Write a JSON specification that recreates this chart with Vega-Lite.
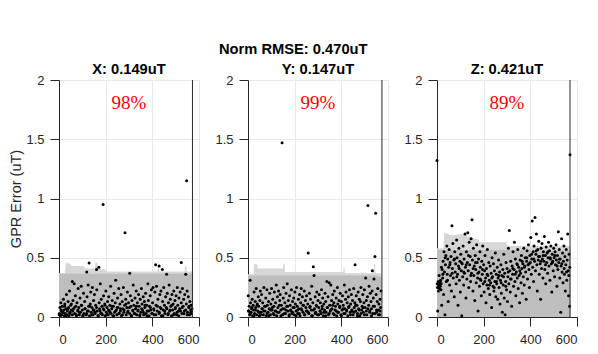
{
"$schema": "https://vega.github.io/schema/vega-lite/v6.json",
"padding": {"left": 8, "top": 41, "right": 5, "bottom": 5},
"background": "white",
"bounds": "flush",
"spacing": 49,
"title": {"text": "Norm RMSE: 0.470uT", "anchor": "middle", "offset": 6},
"config": {
 "view": {"stroke": null},
 "axis": {"labelFont": "Liberation Sans", "labelFontSize": 13, "labelColor": "#262626", "tickColor": "#262626", "domainColor": "#262626", "tickSize": 9, "labelPadding": 6, "gridColor": "#e8e8e8", "titleFont": "Liberation Sans", "titleFontSize": 14.5, "titleFontWeight": "normal", "titleColor": "#262626", "labelExpr": "'' + datum.value"},
 "axisX": {"labelPadding": 7},
 "title": {"font": "Liberation Sans", "fontSize": 14.7, "fontWeight": "bold", "color": "#000000", "offset": -3}
},
"datasets": {
 "bandX": [{"i":0,"b":0.365,"t":0.37},{"i":26,"b":0.365,"t":0.37},{"i":28,"b":0.365,"t":0.455},{"i":50,"b":0.365,"t":0.45},{"i":52,"b":0.365,"t":0.43},{"i":108,"b":0.365,"t":0.43},{"i":110,"b":0.365,"t":0.41},{"i":154,"b":0.365,"t":0.41},{"i":156,"b":0.365,"t":0.46},{"i":164,"b":0.365,"t":0.46},{"i":166,"b":0.365,"t":0.41},{"i":198,"b":0.365,"t":0.40},{"i":202,"b":0.365,"t":0.385},{"i":422,"b":0.365,"t":0.385},{"i":424,"b":0.365,"t":0.42},{"i":427,"b":0.365,"t":0.42},{"i":429,"b":0.365,"t":0.385},{"i":538,"b":0.365,"t":0.385},{"i":540,"b":0.365,"t":0.43},{"i":545,"b":0.365,"t":0.43},{"i":547,"b":0.365,"t":0.385},{"i":572,"b":0.365,"t":0.385}],
 "bandY": [{"i":0,"b":0.35,"t":0.36},{"i":24,"b":0.35,"t":0.36},{"i":26,"b":0.35,"t":0.45},{"i":40,"b":0.35,"t":0.44},{"i":42,"b":0.35,"t":0.41},{"i":150,"b":0.35,"t":0.41},{"i":152,"b":0.35,"t":0.45},{"i":157,"b":0.35,"t":0.45},{"i":159,"b":0.35,"t":0.38},{"i":408,"b":0.35,"t":0.38},{"i":410,"b":0.35,"t":0.42},{"i":413,"b":0.35,"t":0.42},{"i":415,"b":0.35,"t":0.37},{"i":538,"b":0.35,"t":0.37},{"i":540,"b":0.35,"t":0.44},{"i":544,"b":0.35,"t":0.44},{"i":546,"b":0.35,"t":0.37},{"i":572,"b":0.34,"t":0.37}],
 "bandZ": [{"i":0,"b":0.565,"t":0.58},{"i":28,"b":0.565,"t":0.58},{"i":30,"b":0.565,"t":0.71},{"i":60,"b":0.565,"t":0.69},{"i":110,"b":0.565,"t":0.70},{"i":135,"b":0.565,"t":0.68},{"i":180,"b":0.565,"t":0.65},{"i":182,"b":0.565,"t":0.63},{"i":300,"b":0.565,"t":0.63},{"i":302,"b":0.565,"t":0.60},{"i":572,"b":0.56,"t":0.60}],
 "ptsX": [{"i":2,"v":0.03},{"i":4,"v":0.08},{"i":6,"v":0.01},{"i":8,"v":0.12},{"i":10,"v":0.05},{"i":12,"v":0.02},{"i":14,"v":0.09},{"i":17,"v":0.04},{"i":19,"v":0.15},{"i":21,"v":0.06},{"i":23,"v":0.01},{"i":25,"v":0.11},{"i":27,"v":0.03},{"i":30,"v":0.07},{"i":32,"v":0.19},{"i":34,"v":0.02},{"i":36,"v":0.05},{"i":39,"v":0.13},{"i":41,"v":0.08},{"i":43,"v":0.01},{"i":45,"v":0.22},{"i":47,"v":0.04},{"i":50,"v":0.10},{"i":52,"v":0.06},{"i":57,"v":0.30},{"i":57,"v":0.02},{"i":60,"v":0.14},{"i":62,"v":0.07},{"i":65,"v":0.28},{"i":67,"v":0.03},{"i":70,"v":0.18},{"i":72,"v":0.09},{"i":75,"v":0.01},{"i":77,"v":0.12},{"i":80,"v":0.05},{"i":82,"v":0.24},{"i":85,"v":0.08},{"i":87,"v":0.02},{"i":90,"v":0.16},{"i":92,"v":0.04},{"i":95,"v":0.26},{"i":97,"v":0.10},{"i":100,"v":0.06},{"i":102,"v":0.01},{"i":105,"v":0.20},{"i":107,"v":0.03},{"i":110,"v":0.13},{"i":112,"v":0.07},{"i":119,"v":0.38},{"i":117,"v":0.02},{"i":120,"v":0.17},{"i":122,"v":0.05},{"i":125,"v":0.27},{"i":127,"v":0.09},{"i":129,"v":0.455},{"i":131,"v":0.01},{"i":134,"v":0.11},{"i":136,"v":0.21},{"i":138,"v":0.04},{"i":141,"v":0.08},{"i":143,"v":0.25},{"i":145,"v":0.02},{"i":148,"v":0.14},{"i":150,"v":0.06},{"i":152,"v":0.19},{"i":155,"v":0.03},{"i":157,"v":0.10},{"i":161,"v":0.40},{"i":162,"v":0.23},{"i":164,"v":0.05},{"i":167,"v":0.01},{"i":171,"v":0.42},{"i":172,"v":0.12},{"i":174,"v":0.07},{"i":177,"v":0.28},{"i":179,"v":0.03},{"i":181,"v":0.15},{"i":184,"v":0.09},{"i":186,"v":0.02},{"i":189,"v":0.95},{"i":191,"v":0.18},{"i":193,"v":0.06},{"i":196,"v":0.11},{"i":198,"v":0.01},{"i":201,"v":0.22},{"i":203,"v":0.04},{"i":206,"v":0.08},{"i":208,"v":0.13},{"i":211,"v":0.02},{"i":213,"v":0.17},{"i":216,"v":0.05},{"i":218,"v":0.10},{"i":221,"v":0.26},{"i":223,"v":0.03},{"i":226,"v":0.07},{"i":228,"v":0.14},{"i":231,"v":0.01},{"i":233,"v":0.09},{"i":236,"v":0.20},{"i":238,"v":0.04},{"i":241,"v":0.12},{"i":243,"v":0.31},{"i":246,"v":0.06},{"i":248,"v":0.02},{"i":251,"v":0.16},{"i":253,"v":0.08},{"i":256,"v":0.24},{"i":258,"v":0.03},{"i":261,"v":0.11},{"i":263,"v":0.05},{"i":266,"v":0.19},{"i":268,"v":0.01},{"i":271,"v":0.13},{"i":273,"v":0.07},{"i":276,"v":0.25},{"i":278,"v":0.04},{"i":281,"v":0.10},{"i":283,"v":0.71},{"i":286,"v":0.15},{"i":288,"v":0.02},{"i":291,"v":0.08},{"i":293,"v":0.21},{"i":296,"v":0.05},{"i":298,"v":0.12},{"i":303,"v":0.37},{"i":303,"v":0.03},{"i":306,"v":0.18},{"i":308,"v":0.09},{"i":311,"v":0.01},{"i":313,"v":0.14},{"i":316,"v":0.06},{"i":318,"v":0.27},{"i":321,"v":0.10},{"i":323,"v":0.03},{"i":326,"v":0.16},{"i":328,"v":0.07},{"i":331,"v":0.22},{"i":333,"v":0.02},{"i":336,"v":0.12},{"i":338,"v":0.05},{"i":341,"v":0.19},{"i":343,"v":0.09},{"i":346,"v":0.01},{"i":348,"v":0.15},{"i":351,"v":0.04},{"i":353,"v":0.24},{"i":356,"v":0.11},{"i":358,"v":0.06},{"i":361,"v":0.17},{"i":363,"v":0.02},{"i":366,"v":0.13},{"i":368,"v":0.08},{"i":371,"v":0.20},{"i":373,"v":0.03},{"i":376,"v":0.10},{"i":378,"v":0.05},{"i":381,"v":0.28},{"i":383,"v":0.14},{"i":386,"v":0.01},{"i":388,"v":0.09},{"i":391,"v":0.18},{"i":393,"v":0.06},{"i":396,"v":0.23},{"i":398,"v":0.03},{"i":401,"v":0.12},{"i":403,"v":0.25},{"i":406,"v":0.07},{"i":408,"v":0.02},{"i":411,"v":0.21},{"i":414,"v":0.44},{"i":416,"v":0.10},{"i":418,"v":0.26},{"i":421,"v":0.05},{"i":424,"v":0.15},{"i":429,"v":0.43},{"i":429,"v":0.03},{"i":432,"v":0.19},{"i":434,"v":0.08},{"i":437,"v":0.22},{"i":439,"v":0.01},{"i":443,"v":0.40},{"i":444,"v":0.13},{"i":447,"v":0.06},{"i":449,"v":0.25},{"i":452,"v":0.10},{"i":454,"v":0.03},{"i":457,"v":0.17},{"i":461,"v":0.36},{"i":462,"v":0.07},{"i":464,"v":0.20},{"i":467,"v":0.02},{"i":469,"v":0.12},{"i":472,"v":0.27},{"i":474,"v":0.05},{"i":477,"v":0.15},{"i":479,"v":0.09},{"i":482,"v":0.01},{"i":484,"v":0.19},{"i":487,"v":0.06},{"i":489,"v":0.11},{"i":492,"v":0.22},{"i":494,"v":0.03},{"i":497,"v":0.14},{"i":499,"v":0.08},{"i":502,"v":0.18},{"i":504,"v":0.02},{"i":507,"v":0.25},{"i":509,"v":0.10},{"i":512,"v":0.05},{"i":514,"v":0.16},{"i":517,"v":0.07},{"i":519,"v":0.21},{"i":524,"v":0.46},{"i":524,"v":0.12},{"i":527,"v":0.03},{"i":529,"v":0.24},{"i":532,"v":0.09},{"i":534,"v":0.15},{"i":537,"v":0.05},{"i":539,"v":0.19},{"i":543,"v":0.36},{"i":547,"v":1.15},{"i":546,"v":0.11},{"i":549,"v":0.22},{"i":551,"v":0.04},{"i":554,"v":0.17},{"i":556,"v":0.08},{"i":559,"v":0.02},{"i":561,"v":0.13},{"i":564,"v":0.06},{"i":566,"v":0.10},{"i":568,"v":0.03},{"i":570,"v":0.07},
 {"i":1,"v":0.02},{"i":9,"v":0.06},{"i":16,"v":0.04},{"i":24,"v":0.09},{"i":31,"v":0.01},{"i":38,"v":0.07},{"i":46,"v":0.03},{"i":53,"v":0.11},{"i":59,"v":0.05},{"i":66,"v":0.08},{"i":74,"v":0.02},{"i":81,"v":0.06},{"i":88,"v":0.04},{"i":96,"v":0.10},{"i":103,"v":0.01},{"i":111,"v":0.07},{"i":118,"v":0.03},{"i":126,"v":0.05},{"i":133,"v":0.09},{"i":140,"v":0.02},{"i":147,"v":0.06},{"i":154,"v":0.04},{"i":161,"v":0.08},{"i":169,"v":0.01},{"i":176,"v":0.05},{"i":183,"v":0.03},{"i":190,"v":0.07},{"i":197,"v":0.10},{"i":205,"v":0.02},{"i":212,"v":0.06},{"i":219,"v":0.04},{"i":227,"v":0.09},{"i":234,"v":0.01},{"i":242,"v":0.05},{"i":249,"v":0.08},{"i":257,"v":0.03},{"i":264,"v":0.07},{"i":272,"v":0.02},{"i":279,"v":0.06},{"i":287,"v":0.11},{"i":294,"v":0.04},{"i":302,"v":0.08},{"i":309,"v":0.01},{"i":317,"v":0.05},{"i":324,"v":0.03},{"i":332,"v":0.09},{"i":339,"v":0.06},{"i":347,"v":0.02},{"i":354,"v":0.07},{"i":362,"v":0.04},{"i":369,"v":0.10},{"i":377,"v":0.01},{"i":384,"v":0.05},{"i":392,"v":0.08},{"i":399,"v":0.03},{"i":407,"v":0.06},{"i":415,"v":0.02},{"i":422,"v":0.09},{"i":430,"v":0.04},{"i":438,"v":0.07},{"i":445,"v":0.01},{"i":453,"v":0.05},{"i":460,"v":0.08},{"i":468,"v":0.03},{"i":476,"v":0.06},{"i":483,"v":0.10},{"i":491,"v":0.02},{"i":498,"v":0.07},{"i":506,"v":0.04},{"i":513,"v":0.01},{"i":521,"v":0.05},{"i":528,"v":0.08},{"i":536,"v":0.03},{"i":543,"v":0.06},{"i":550,"v":0.02},{"i":558,"v":0.09},{"i":565,"v":0.04}],
 "ptsY": [{"i":1,"v":0.18},{"i":3,"v":0.05},{"i":5,"v":0.09},{"i":7,"v":0.02},{"i":9,"v":0.31},{"i":11,"v":0.12},{"i":13,"v":0.04},{"i":15,"v":0.07},{"i":18,"v":0.15},{"i":20,"v":0.01},{"i":22,"v":0.10},{"i":24,"v":0.06},{"i":26,"v":0.21},{"i":28,"v":0.03},{"i":31,"v":0.13},{"i":33,"v":0.08},{"i":35,"v":0.24},{"i":37,"v":0.02},{"i":40,"v":0.11},{"i":42,"v":0.05},{"i":44,"v":0.17},{"i":46,"v":0.09},{"i":49,"v":0.01},{"i":51,"v":0.14},{"i":53,"v":0.22},{"i":56,"v":0.04},{"i":58,"v":0.19},{"i":61,"v":0.07},{"i":63,"v":0.12},{"i":66,"v":0.02},{"i":68,"v":0.25},{"i":71,"v":0.09},{"i":73,"v":0.05},{"i":76,"v":0.16},{"i":78,"v":0.01},{"i":81,"v":0.23},{"i":83,"v":0.10},{"i":86,"v":0.04},{"i":88,"v":0.13},{"i":91,"v":0.07},{"i":93,"v":0.20},{"i":96,"v":0.02},{"i":98,"v":0.11},{"i":101,"v":0.24},{"i":103,"v":0.06},{"i":106,"v":0.15},{"i":108,"v":0.03},{"i":111,"v":0.09},{"i":113,"v":0.21},{"i":116,"v":0.05},{"i":118,"v":0.12},{"i":121,"v":0.27},{"i":123,"v":0.01},{"i":126,"v":0.17},{"i":128,"v":0.08},{"i":131,"v":0.22},{"i":133,"v":0.04},{"i":136,"v":0.14},{"i":138,"v":0.19},{"i":141,"v":0.06},{"i":143,"v":0.10},{"i":146,"v":1.47},{"i":148,"v":0.02},{"i":151,"v":0.16},{"i":153,"v":0.25},{"i":156,"v":0.07},{"i":158,"v":0.12},{"i":161,"v":0.03},{"i":163,"v":0.20},{"i":166,"v":0.09},{"i":168,"v":0.28},{"i":171,"v":0.05},{"i":173,"v":0.14},{"i":176,"v":0.01},{"i":178,"v":0.18},{"i":181,"v":0.10},{"i":183,"v":0.06},{"i":186,"v":0.23},{"i":188,"v":0.03},{"i":191,"v":0.13},{"i":193,"v":0.08},{"i":196,"v":0.16},{"i":198,"v":0.02},{"i":201,"v":0.21},{"i":203,"v":0.11},{"i":206,"v":0.05},{"i":208,"v":0.25},{"i":211,"v":0.09},{"i":213,"v":0.03},{"i":216,"v":0.15},{"i":218,"v":0.07},{"i":221,"v":0.19},{"i":223,"v":0.01},{"i":226,"v":0.12},{"i":228,"v":0.24},{"i":231,"v":0.06},{"i":233,"v":0.17},{"i":236,"v":0.04},{"i":238,"v":0.10},{"i":241,"v":0.22},{"i":243,"v":0.02},{"i":246,"v":0.14},{"i":248,"v":0.08},{"i":251,"v":0.18},{"i":253,"v":0.05},{"i":256,"v":0.11},{"i":258,"v":0.54},{"i":261,"v":0.03},{"i":263,"v":0.20},{"i":266,"v":0.09},{"i":268,"v":0.15},{"i":271,"v":0.06},{"i":273,"v":0.26},{"i":276,"v":0.01},{"i":278,"v":0.12},{"i":280,"v":0.425},{"i":283,"v":0.35},{"i":285,"v":0.07},{"i":288,"v":0.17},{"i":290,"v":0.04},{"i":293,"v":0.10},{"i":295,"v":0.21},{"i":298,"v":0.02},{"i":300,"v":0.14},{"i":303,"v":0.08},{"i":305,"v":0.19},{"i":308,"v":0.05},{"i":310,"v":0.12},{"i":313,"v":0.03},{"i":315,"v":0.23},{"i":318,"v":0.09},{"i":320,"v":0.16},{"i":323,"v":0.01},{"i":325,"v":0.11},{"i":328,"v":0.06},{"i":330,"v":0.20},{"i":333,"v":0.13},{"i":335,"v":0.04},{"i":338,"v":0.30},{"i":340,"v":0.08},{"i":343,"v":0.17},{"i":345,"v":0.02},{"i":348,"v":0.29},{"i":350,"v":0.10},{"i":353,"v":0.05},{"i":355,"v":0.27},{"i":358,"v":0.14},{"i":360,"v":0.07},{"i":363,"v":0.19},{"i":365,"v":0.03},{"i":368,"v":0.12},{"i":370,"v":0.22},{"i":373,"v":0.06},{"i":375,"v":0.09},{"i":378,"v":0.16},{"i":380,"v":0.01},{"i":383,"v":0.25},{"i":385,"v":0.11},{"i":388,"v":0.04},{"i":390,"v":0.14},{"i":393,"v":0.08},{"i":395,"v":0.20},{"i":398,"v":0.02},{"i":400,"v":0.13},{"i":403,"v":0.06},{"i":405,"v":0.18},{"i":408,"v":0.10},{"i":410,"v":0.03},{"i":413,"v":0.27},{"i":415,"v":0.07},{"i":418,"v":0.15},{"i":420,"v":0.21},{"i":423,"v":0.05},{"i":425,"v":0.12},{"i":428,"v":0.01},{"i":430,"v":0.17},{"i":433,"v":0.09},{"i":435,"v":0.23},{"i":438,"v":0.04},{"i":440,"v":0.11},{"i":443,"v":0.19},{"i":445,"v":0.06},{"i":448,"v":0.14},{"i":450,"v":0.02},{"i":453,"v":0.24},{"i":455,"v":0.08},{"i":458,"v":0.12},{"i":459,"v":0.44},{"i":462,"v":0.05},{"i":464,"v":0.18},{"i":467,"v":0.10},{"i":469,"v":0.03},{"i":472,"v":0.21},{"i":474,"v":0.07},{"i":477,"v":0.15},{"i":479,"v":0.01},{"i":482,"v":0.13},{"i":484,"v":0.25},{"i":487,"v":0.06},{"i":489,"v":0.09},{"i":492,"v":0.19},{"i":494,"v":0.04},{"i":497,"v":0.12},{"i":499,"v":0.23},{"i":502,"v":0.08},{"i":504,"v":0.33},{"i":507,"v":0.14},{"i":509,"v":0.02},{"i":512,"v":0.17},{"i":514,"v":0.94},{"i":517,"v":0.10},{"i":519,"v":0.26},{"i":522,"v":0.05},{"i":524,"v":0.20},{"i":527,"v":0.13},{"i":529,"v":0.07},{"i":532,"v":0.22},{"i":533,"v":0.39},{"i":535,"v":0.03},{"i":537,"v":0.16},{"i":540,"v":0.32},{"i":542,"v":0.09},{"i":544,"v":0.51},{"i":547,"v":0.875},{"i":549,"v":0.19},{"i":551,"v":0.04},{"i":554,"v":0.13},{"i":556,"v":0.24},{"i":559,"v":0.06},{"i":561,"v":0.11},{"i":564,"v":0.02},{"i":566,"v":0.15},{"i":568,"v":0.08},{"i":570,"v":0.22},
 {"i":2,"v":0.05},{"i":10,"v":0.03},{"i":17,"v":0.08},{"i":25,"v":0.01},{"i":32,"v":0.06},{"i":39,"v":0.10},{"i":47,"v":0.04},{"i":54,"v":0.02},{"i":60,"v":0.07},{"i":67,"v":0.05},{"i":75,"v":0.09},{"i":82,"v":0.03},{"i":89,"v":0.01},{"i":97,"v":0.06},{"i":104,"v":0.08},{"i":112,"v":0.02},{"i":119,"v":0.05},{"i":127,"v":0.04},{"i":134,"v":0.10},{"i":141,"v":0.01},{"i":148,"v":0.07},{"i":155,"v":0.03},{"i":162,"v":0.06},{"i":170,"v":0.09},{"i":177,"v":0.02},{"i":184,"v":0.05},{"i":191,"v":0.04},{"i":198,"v":0.08},{"i":206,"v":0.01},{"i":213,"v":0.06},{"i":220,"v":0.03},{"i":228,"v":0.07},{"i":235,"v":0.10},{"i":243,"v":0.02},{"i":250,"v":0.05},{"i":258,"v":0.04},{"i":265,"v":0.08},{"i":273,"v":0.01},{"i":280,"v":0.06},{"i":288,"v":0.03},{"i":295,"v":0.09},{"i":303,"v":0.02},{"i":310,"v":0.05},{"i":318,"v":0.07},{"i":325,"v":0.04},{"i":333,"v":0.01},{"i":340,"v":0.08},{"i":348,"v":0.03},{"i":355,"v":0.06},{"i":363,"v":0.10},{"i":370,"v":0.02},{"i":378,"v":0.05},{"i":385,"v":0.04},{"i":393,"v":0.09},{"i":400,"v":0.01},{"i":408,"v":0.07},{"i":416,"v":0.03},{"i":423,"v":0.06},{"i":431,"v":0.08},{"i":439,"v":0.02},{"i":446,"v":0.05},{"i":454,"v":0.04},{"i":461,"v":0.10},{"i":469,"v":0.01},{"i":477,"v":0.06},{"i":484,"v":0.03},{"i":492,"v":0.08},{"i":499,"v":0.02},{"i":507,"v":0.05},{"i":514,"v":0.07},{"i":522,"v":0.04},{"i":529,"v":0.01},{"i":537,"v":0.09},{"i":544,"v":0.03},{"i":551,"v":0.06},{"i":559,"v":0.02},{"i":566,"v":0.05}],
 "ptsZ": [{"i":0,"v":1.32},{"i":2,"v":0.25},{"i":3,"v":0.05},{"i":5,"v":0.30},{"i":6,"v":0.22},{"i":8,"v":0.27},{"i":9,"v":0.35},{"i":11,"v":0.24},{"i":12,"v":0.29},{"i":14,"v":0.26},{"i":15,"v":0.31},{"i":17,"v":0.23},{"i":18,"v":0.28},{"i":20,"v":0.10},{"i":22,"v":0.40},{"i":24,"v":0.33},{"i":26,"v":0.47},{"i":28,"v":0.19},{"i":30,"v":0.55},{"i":32,"v":0.38},{"i":34,"v":0.02},{"i":36,"v":0.44},{"i":38,"v":0.52},{"i":40,"v":0.30},{"i":42,"v":0.60},{"i":44,"v":0.36},{"i":46,"v":0.49},{"i":48,"v":0.13},{"i":50,"v":0.42},{"i":52,"v":0.57},{"i":54,"v":0.27},{"i":56,"v":0.46},{"i":58,"v":0.35},{"i":60,"v":0.51},{"i":62,"v":0.22},{"i":64,"v":0.77},{"i":66,"v":0.41},{"i":68,"v":0.62},{"i":70,"v":0.33},{"i":72,"v":0.48},{"i":74,"v":0.17},{"i":76,"v":0.55},{"i":78,"v":0.38},{"i":80,"v":0.45},{"i":82,"v":0.28},{"i":84,"v":0.65},{"i":86,"v":0.50},{"i":88,"v":0.36},{"i":90,"v":0.10},{"i":92,"v":0.43},{"i":94,"v":0.58},{"i":96,"v":0.31},{"i":98,"v":0.47},{"i":100,"v":0.21},{"i":102,"v":0.53},{"i":104,"v":0.39},{"i":106,"v":0.01},{"i":108,"v":0.45},{"i":110,"v":0.34},{"i":112,"v":0.60},{"i":114,"v":0.27},{"i":116,"v":0.49},{"i":118,"v":0.37},{"i":120,"v":0.70},{"i":122,"v":0.42},{"i":124,"v":0.16},{"i":126,"v":0.55},{"i":128,"v":0.32},{"i":130,"v":0.46},{"i":132,"v":0.71},{"i":134,"v":0.39},{"i":136,"v":0.25},{"i":138,"v":0.63},{"i":140,"v":0.44},{"i":142,"v":0.51},{"i":144,"v":0.30},{"i":146,"v":0.66},{"i":148,"v":0.37},{"i":150,"v":0.82},{"i":152,"v":0.48},{"i":154,"v":0.22},{"i":156,"v":0.58},{"i":158,"v":0.35},{"i":160,"v":0.43},{"i":162,"v":0.14},{"i":164,"v":0.52},{"i":166,"v":0.40},{"i":168,"v":0.29},{"i":170,"v":0.61},{"i":172,"v":0.46},{"i":174,"v":0.33},{"i":176,"v":0.05},{"i":178,"v":0.49},{"i":180,"v":0.38},{"i":182,"v":0.26},{"i":184,"v":0.55},{"i":186,"v":0.42},{"i":188,"v":0.31},{"i":190,"v":0.18},{"i":192,"v":0.47},{"i":194,"v":0.36},{"i":196,"v":0.60},{"i":198,"v":0.28},{"i":200,"v":0.44},{"i":202,"v":0.21},{"i":204,"v":0.39},{"i":206,"v":0.52},{"i":208,"v":0.33},{"i":210,"v":0.12},{"i":212,"v":0.41},{"i":214,"v":0.27},{"i":216,"v":0.57},{"i":218,"v":0.35},{"i":220,"v":0.24},{"i":222,"v":0.46},{"i":224,"v":0.31},{"i":226,"v":0.19},{"i":228,"v":0.43},{"i":230,"v":0.29},{"i":232,"v":0.37},{"i":234,"v":0.08},{"i":236,"v":0.50},{"i":238,"v":0.34},{"i":240,"v":0.26},{"i":242,"v":0.45},{"i":244,"v":0.22},{"i":246,"v":0.39},{"i":248,"v":0.30},{"i":250,"v":0.54},{"i":252,"v":0.17},{"i":254,"v":0.36},{"i":256,"v":0.28},{"i":258,"v":0.42},{"i":260,"v":0.15},{"i":262,"v":0.33},{"i":264,"v":0.48},{"i":266,"v":0.25},{"i":268,"v":0.38},{"i":270,"v":0.11},{"i":272,"v":0.31},{"i":274,"v":0.44},{"i":276,"v":0.20},{"i":278,"v":0.35},{"i":280,"v":0.04},{"i":282,"v":0.40},{"i":284,"v":0.27},{"i":286,"v":0.53},{"i":288,"v":0.16},{"i":290,"v":0.37},{"i":292,"v":0.02},{"i":294,"v":0.30},{"i":296,"v":0.46},{"i":298,"v":0.23},{"i":300,"v":0.41},{"i":302,"v":0.13},{"i":304,"v":0.34},{"i":306,"v":0.58},{"i":308,"v":0.28},{"i":310,"v":0.73},{"i":312,"v":0.39},{"i":314,"v":0.21},{"i":316,"v":0.47},{"i":318,"v":0.32},{"i":320,"v":0.09},{"i":322,"v":0.43},{"i":324,"v":0.36},{"i":326,"v":0.55},{"i":328,"v":0.26},{"i":330,"v":0.40},{"i":332,"v":0.63},{"i":334,"v":0.30},{"i":336,"v":0.49},{"i":338,"v":0.18},{"i":340,"v":0.38},{"i":342,"v":0.45},{"i":344,"v":0.33},{"i":346,"v":0.57},{"i":348,"v":0.24},{"i":350,"v":0.42},{"i":352,"v":0.35},{"i":354,"v":0.12},{"i":356,"v":0.48},{"i":358,"v":0.37},{"i":360,"v":0.29},{"i":362,"v":0.52},{"i":364,"v":0.41},{"i":366,"v":0.20},{"i":368,"v":0.45},{"i":370,"v":0.34},{"i":372,"v":0.58},{"i":374,"v":0.27},{"i":376,"v":0.43},{"i":378,"v":0.50},{"i":380,"v":0.38},{"i":382,"v":0.15},{"i":384,"v":0.47},{"i":386,"v":0.56},{"i":388,"v":0.32},{"i":390,"v":0.44},{"i":392,"v":0.61},{"i":394,"v":0.40},{"i":396,"v":0.25},{"i":398,"v":0.52},{"i":400,"v":0.46},{"i":402,"v":0.67},{"i":404,"v":0.36},{"i":406,"v":0.49},{"i":408,"v":0.81},{"i":410,"v":0.42},{"i":412,"v":0.55},{"i":414,"v":0.30},{"i":416,"v":0.60},{"i":418,"v":0.47},{"i":420,"v":0.84},{"i":422,"v":0.39},{"i":424,"v":0.53},{"i":426,"v":0.70},{"i":428,"v":0.44},{"i":430,"v":0.22},{"i":432,"v":0.57},{"i":434,"v":0.48},{"i":436,"v":0.64},{"i":438,"v":0.36},{"i":440,"v":0.51},{"i":442,"v":0.45},{"i":444,"v":0.15},{"i":446,"v":0.58},{"i":448,"v":0.41},{"i":450,"v":0.62},{"i":452,"v":0.49},{"i":454,"v":0.33},{"i":456,"v":0.55},{"i":458,"v":0.47},{"i":460,"v":0.68},{"i":462,"v":0.40},{"i":464,"v":0.52},{"i":466,"v":0.28},{"i":468,"v":0.59},{"i":470,"v":0.46},{"i":472,"v":0.54},{"i":474,"v":0.37},{"i":476,"v":0.50},{"i":478,"v":0.63},{"i":480,"v":0.43},{"i":482,"v":0.56},{"i":484,"v":0.31},{"i":486,"v":0.49},{"i":488,"v":0.60},{"i":490,"v":0.45},{"i":492,"v":0.21},{"i":494,"v":0.53},{"i":496,"v":0.47},{"i":498,"v":0.39},{"i":500,"v":0.58},{"i":502,"v":0.50},{"i":504,"v":0.34},{"i":506,"v":0.55},{"i":508,"v":0.44},{"i":510,"v":0.61},{"i":512,"v":0.48},{"i":514,"v":0.26},{"i":516,"v":0.52},{"i":518,"v":0.40},{"i":520,"v":0.72},{"i":522,"v":0.46},{"i":524,"v":0.57},{"i":526,"v":0.33},{"i":528,"v":0.49},{"i":530,"v":0.04},{"i":532,"v":0.43},{"i":534,"v":0.66},{"i":536,"v":0.38},{"i":538,"v":0.54},{"i":540,"v":0.29},{"i":542,"v":0.47},{"i":544,"v":0.60},{"i":546,"v":0.36},{"i":548,"v":0.51},{"i":550,"v":0.22},{"i":552,"v":0.44},{"i":554,"v":0.57},{"i":556,"v":0.31},{"i":558,"v":0.48},{"i":560,"v":0.70},{"i":562,"v":0.39},{"i":564,"v":0.18},{"i":566,"v":0.53},{"i":568,"v":0.09},{"i":570,"v":1.37},{"i":569,"v":0.42},
 {"i":1,"v":0.28},{"i":7,"v":0.26},{"i":13,"v":0.30},{"i":19,"v":0.42},{"i":25,"v":0.36},{"i":35,"v":0.50},{"i":45,"v":0.31},{"i":55,"v":0.44},{"i":65,"v":0.37},{"i":75,"v":0.49},{"i":85,"v":0.34},{"i":95,"v":0.41},{"i":105,"v":0.46},{"i":115,"v":0.38},{"i":125,"v":0.44},{"i":135,"v":0.52},{"i":145,"v":0.35},{"i":155,"v":0.41},{"i":165,"v":0.46},{"i":175,"v":0.37},{"i":185,"v":0.32},{"i":195,"v":0.40},{"i":205,"v":0.30},{"i":215,"v":0.36},{"i":225,"v":0.27},{"i":235,"v":0.33},{"i":245,"v":0.25},{"i":255,"v":0.30},{"i":265,"v":0.35},{"i":275,"v":0.29},{"i":285,"v":0.34},{"i":295,"v":0.26},{"i":305,"v":0.38},{"i":315,"v":0.32},{"i":325,"v":0.41},{"i":335,"v":0.36},{"i":345,"v":0.44},{"i":355,"v":0.39},{"i":365,"v":0.47},{"i":375,"v":0.42},{"i":385,"v":0.50},{"i":395,"v":0.45},{"i":405,"v":0.53},{"i":415,"v":0.49},{"i":425,"v":0.56},{"i":435,"v":0.51},{"i":445,"v":0.47},{"i":455,"v":0.52},{"i":465,"v":0.44},{"i":475,"v":0.55},{"i":485,"v":0.50},{"i":495,"v":0.46},{"i":505,"v":0.52},{"i":515,"v":0.43},{"i":525,"v":0.49},{"i":535,"v":0.45},{"i":545,"v":0.41},{"i":555,"v":0.38},{"i":565,"v":0.35}],
 "labX": [{"i":300,"v":1.81,"t":"98%","r":572}],
 "labY": [{"i":300,"v":1.81,"t":"99%","r":574}],
 "labZ": [{"i":300,"v":1.81,"t":"89%","r":570}]
},
"hconcat": [
 {"width":140,"height":237,"title":"X: 0.149uT","layer":[
  {"data":{"name":"bandX"},"mark":{"type":"area","color":"#d6d6d6"},"encoding":{"x":{"field":"i","type":"quantitative","scale":{"domain":[0,600],"nice":false},"axis":{"values":[0,200,400,600],"title":null}},"y":{"field":"t","type":"quantitative","scale":{"domain":[0,2],"nice":false},"axis":{"values":[0,0.5,1,1.5,2],"title":"GPR Error (uT)","titlePadding":2}}}},
  {"data":{"name":"bandX"},"mark":{"type":"area","color":"#bebebe"},"encoding":{"x":{"field":"i","type":"quantitative"},"y":{"field":"b","type":"quantitative"}}},
  {"data":{"name":"ptsX"},"mark":{"type":"circle","color":"#000000","size":9,"opacity":1},"encoding":{"x":{"field":"i","type":"quantitative"},"y":{"field":"v","type":"quantitative"}}},
  {"data":{"name":"labX"},"mark":{"type":"rule","color":"#262626","strokeWidth":1},"encoding":{"x":{"field":"r","type":"quantitative"}}},
  {"data":{"name":"labX"},"mark":{"type":"text","font":"Liberation Serif","fontSize":19,"color":"#ff0000","baseline":"middle"},"encoding":{"x":{"field":"i","type":"quantitative"},"y":{"field":"v","type":"quantitative"},"text":{"field":"t"}}}
 ]},
 {"width":140,"height":237,"title":"Y: 0.147uT","layer":[
  {"data":{"name":"bandY"},"mark":{"type":"area","color":"#d6d6d6"},"encoding":{"x":{"field":"i","type":"quantitative","scale":{"domain":[0,600],"nice":false},"axis":{"values":[0,200,400,600],"title":null}},"y":{"field":"t","type":"quantitative","scale":{"domain":[0,2],"nice":false},"axis":{"values":[0,0.5,1,1.5,2],"title":null}}}},
  {"data":{"name":"bandY"},"mark":{"type":"area","color":"#bebebe"},"encoding":{"x":{"field":"i","type":"quantitative"},"y":{"field":"b","type":"quantitative"}}},
  {"data":{"name":"ptsY"},"mark":{"type":"circle","color":"#000000","size":9,"opacity":1},"encoding":{"x":{"field":"i","type":"quantitative"},"y":{"field":"v","type":"quantitative"}}},
  {"data":{"name":"labY"},"mark":{"type":"rule","color":"#262626","strokeWidth":1},"encoding":{"x":{"field":"r","type":"quantitative"}}},
  {"data":{"name":"labY"},"mark":{"type":"text","font":"Liberation Serif","fontSize":19,"color":"#ff0000","baseline":"middle"},"encoding":{"x":{"field":"i","type":"quantitative"},"y":{"field":"v","type":"quantitative"},"text":{"field":"t"}}}
 ]},
 {"width":140,"height":237,"title":"Z: 0.421uT","layer":[
  {"data":{"name":"bandZ"},"mark":{"type":"area","color":"#d6d6d6"},"encoding":{"x":{"field":"i","type":"quantitative","scale":{"domain":[0,600],"nice":false},"axis":{"values":[0,200,400,600],"title":null}},"y":{"field":"t","type":"quantitative","scale":{"domain":[0,2],"nice":false},"axis":{"values":[0,0.5,1,1.5,2],"title":null}}}},
  {"data":{"name":"bandZ"},"mark":{"type":"area","color":"#bebebe"},"encoding":{"x":{"field":"i","type":"quantitative"},"y":{"field":"b","type":"quantitative"}}},
  {"data":{"name":"ptsZ"},"mark":{"type":"circle","color":"#000000","size":9,"opacity":1},"encoding":{"x":{"field":"i","type":"quantitative"},"y":{"field":"v","type":"quantitative"}}},
  {"data":{"name":"labZ"},"mark":{"type":"rule","color":"#262626","strokeWidth":1},"encoding":{"x":{"field":"r","type":"quantitative"}}},
  {"data":{"name":"labZ"},"mark":{"type":"text","font":"Liberation Serif","fontSize":19,"color":"#ff0000","baseline":"middle"},"encoding":{"x":{"field":"i","type":"quantitative"},"y":{"field":"v","type":"quantitative"},"text":{"field":"t"}}}
 ]}
]
}
